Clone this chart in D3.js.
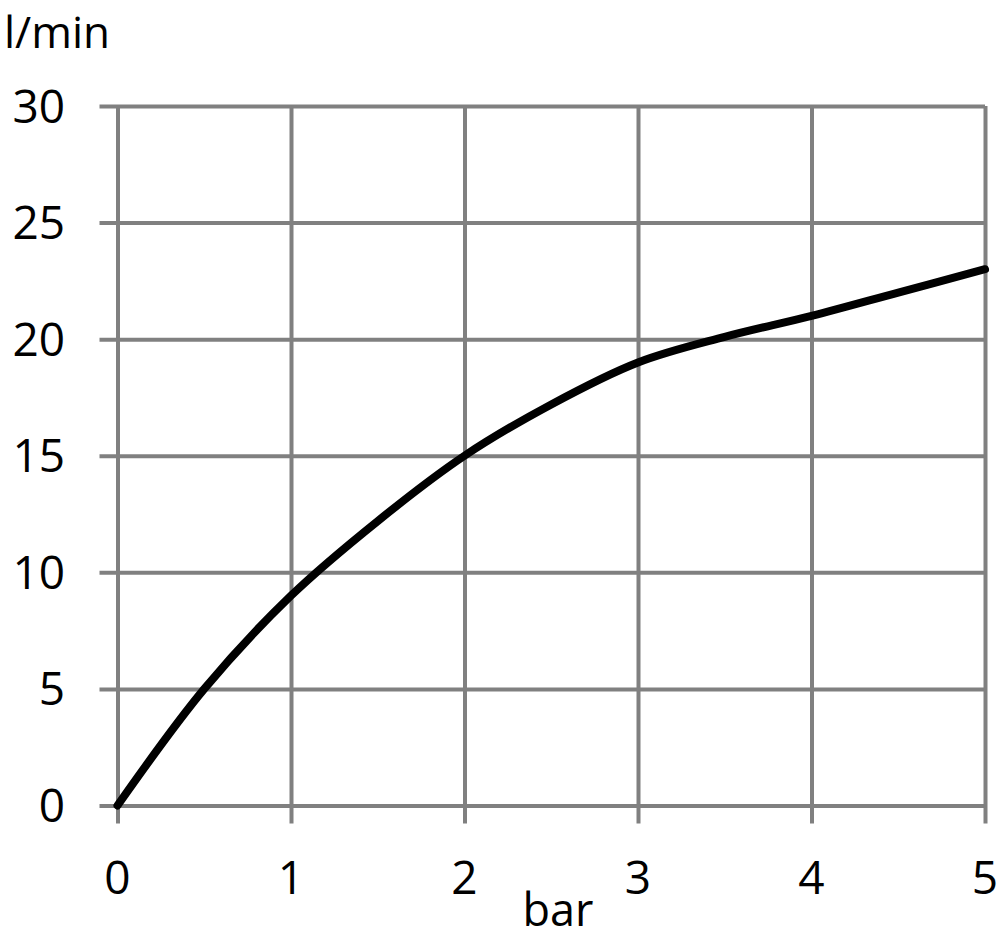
<!DOCTYPE html>
<html><head><meta charset="utf-8">
<script src="https://cdn.jsdelivr.net/npm/d3@7"></script>
<style>body{margin:0;background:#fff}svg{display:block}</style>
</head><body>
<script>
const pressure = [0, 0.5, 1, 1.5, 2, 2.5, 3, 3.5, 4, 4.5, 5];
const flow = [0, 5, 9, 12.2, 15, 17.2, 19, 20.1, 21, 22, 23];
const xTicks = [0, 1, 2, 3, 4, 5];
const yTicks = [0, 5, 10, 15, 20, 25, 30];
const xTitle = "bar";
const yTitle = "l/min";

const W = 1000, H = 939;
const svg = d3.select("body").append("svg").attr("width", W).attr("height", H);
const x = d3.scaleLinear().domain([0, 5]).range([117.5, 985]);
const y = d3.scaleLinear().domain([0, 30]).range([805.5, 106]);
const font = "'Open Sans', sans-serif";
const grid = "#808080";

// horizontal grid
const yAxis = d3.axisLeft(y).tickValues(yTicks).tickSize((x(5) - x(0)) + 18).tickFormat(() => "");
svg.append("g").attr("transform", `translate(${x(5)},0)`).call(yAxis)
  .call(g => g.select(".domain").remove())
  .selectAll("line").attr("stroke", grid).attr("stroke-width", 4);
// vertical grid
const xAxis = d3.axisBottom(x).tickValues(xTicks).tickSize((y(0) - y(30)) + 18).tickFormat(() => "");
svg.append("g").attr("transform", `translate(0,${y(30)})`).call(xAxis)
  .call(g => g.select(".domain").remove())
  .selectAll("line").attr("stroke", grid).attr("stroke-width", 4);

// tick labels
svg.append("g").selectAll("text").data(yTicks).join("text")
  .attr("x", 65).attr("y", d => y(d)).attr("dy", "0.36em")
  .attr("text-anchor", "end").attr("font-family", font).attr("font-size", 46)
  .attr("fill", "#000").text(d => d);
svg.append("g").selectAll("text").data(xTicks).join("text")
  .attr("x", d => x(d)).attr("y", 894)
  .attr("text-anchor", "middle").attr("font-family", font).attr("font-size", 46)
  .attr("fill", "#000").text(d => d);

svg.append("text").attr("x", 558).attr("y", 926).attr("text-anchor", "middle")
  .attr("font-family", font).attr("font-size", 45).text(xTitle);
svg.append("text").attr("x", 4).attr("y", 48)
  .attr("font-family", font).attr("font-size", 44).text(yTitle);

const line = d3.line().x((d, i) => x(pressure[i])).y(d => y(d)).curve(d3.curveCatmullRom.alpha(0.5));
svg.append("path").attr("d", line(flow)).attr("fill", "none")
  .attr("stroke", "#000").attr("stroke-width", 8).attr("stroke-linecap", "round");
</script>
</body></html>
